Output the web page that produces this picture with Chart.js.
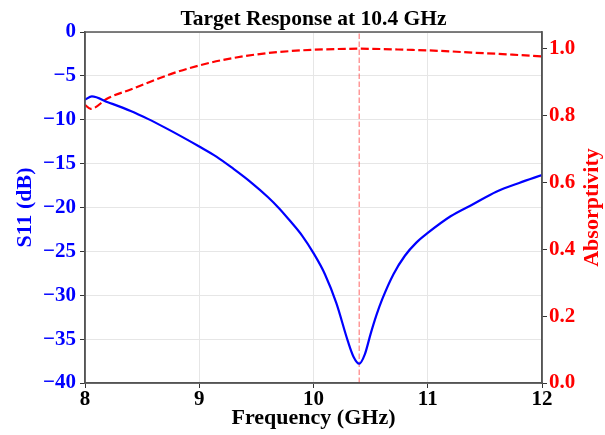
<!DOCTYPE html>
<html>
<head>
<meta charset="utf-8">
<script src="https://cdn.jsdelivr.net/npm/chart.js@4/dist/chart.umd.min.js"></script>
<style>
  body { margin: 0; background: #fff; }
</style>
</head>
<body>
<canvas id="chart" width="605" height="435"></canvas>
<script>
// S11 (dB)
const s11Freq = [8.0, 8.06, 8.2, 8.4, 8.55, 8.7, 8.85, 9.0, 9.15, 9.3, 9.45, 9.6, 9.7, 9.8, 9.9, 10.0,
  10.1, 10.2, 10.3, 10.35, 10.4, 10.45, 10.5, 10.55, 10.6, 10.7, 10.8, 10.9, 11.0, 11.2, 11.4, 11.6, 11.8, 12.0];
const s11Values = [-7.72, -7.34, -8.0, -9.0, -9.9, -10.9, -11.95, -13.05, -14.2, -15.6, -17.1, -18.8, -20.1, -21.6, -23.2, -25.2,
  -27.6, -30.9, -35.2, -37.0, -37.8, -36.7, -34.4, -32.3, -30.5, -27.6, -25.5, -24.0, -22.9, -21.0, -19.6, -18.2, -17.2, -16.3];

// absorptivity
const absFreq = [8.0, 8.05, 8.2, 8.4, 8.6, 8.8, 9.0, 9.2, 9.4, 9.6, 9.8, 10.0, 10.2, 10.4, 10.6, 10.8, 11.0, 11.2, 11.4, 11.6, 11.8, 12.0];
const absValues = [0.832, 0.82, 0.852, 0.878, 0.905, 0.93, 0.95, 0.966, 0.978, 0.987, 0.993, 0.997, 0.999, 1.0, 0.999, 0.997, 0.995, 0.992, 0.988, 0.985, 0.981, 0.977];

const targetFreq = 10.4;
const s11Ticks = [-40, -35, -30, -25, -20, -15, -10, -5, 0];
const absTicks = [0.0, 0.2, 0.4, 0.6, 0.8, 1.0];

const titleText = 'Target Response at 10.4 GHz';
const rightTitle = 'Absorptivity';

const serif = "'Liberation Serif', 'Times New Roman', serif";

function pts(xs, ys) {
    return xs.map((x, i) => ({ x: x, y: ys[i] }));
}

// frame around the plot, title centred on the axes, right axis label read bottom-up
const framePlugin = {
    id: 'frame',
    afterDraw(chart) {
        const a = chart.chartArea;
        const ctx = chart.ctx;
        ctx.save();
        ctx.strokeStyle = '#555';
        ctx.lineWidth = 1.5;
        ctx.strokeRect(a.left, a.top, a.right - a.left, a.bottom - a.top);

        ctx.fillStyle = '#000';
        ctx.font = 'bold 21.5px ' + serif;
        ctx.textAlign = 'center';
        ctx.textBaseline = 'alphabetic';
        ctx.fillText(titleText, (a.left + a.right) / 2, 25);

        ctx.translate(592, (a.top + a.bottom) / 2);
        ctx.rotate(-Math.PI / 2);
        ctx.fillStyle = '#ff0000';
        ctx.font = 'bold 22px ' + serif;
        ctx.textBaseline = 'middle';
        ctx.fillText(rightTitle, 0, 0);
        ctx.restore();
    }
};

new Chart(document.getElementById('chart'), {
    type: 'line',
    data: {
        datasets: [
            {
                label: 'S11',
                data: pts(s11Freq, s11Values),
                yAxisID: 'y',
                borderColor: '#0000ff',
                borderWidth: 2.2,
                pointRadius: 0,
                cubicInterpolationMode: 'monotone'
            },
            {
                label: 'Absorptivity',
                data: pts(absFreq, absValues),
                yAxisID: 'y1',
                borderColor: '#ff0000',
                borderWidth: 2.2,
                borderDash: [8, 3.5],
                pointRadius: 0,
                cubicInterpolationMode: 'monotone'
            },
            {
                label: 'Target',
                data: [{ x: targetFreq, y: s11Ticks[0] }, { x: targetFreq, y: s11Ticks[s11Ticks.length - 1] }],
                yAxisID: 'y',
                borderColor: 'rgba(255,0,0,0.5)',
                borderWidth: 1.2,
                borderDash: [5.5, 2.5],
                pointRadius: 0
            }
        ]
    },
    options: {
        responsive: false,
        animation: false,
        layout: { padding: { top: 32, left: 0, right: 0, bottom: 0 } },
        plugins: {
            legend: { display: false },
            tooltip: { enabled: false },
            title: { display: false }
        },
        scales: {
            x: {
                type: 'linear',
                min: 8,
                max: 12,
                ticks: {
                    stepSize: 1,
                    color: '#000',
                    font: { family: serif, size: 21, weight: 'bold' },
                    padding: -1,
                    maxRotation: 0
                },
                grid: { color: '#e6e6e6', tickColor: '#333', tickLength: 5 },
                border: { color: '#555', width: 1.5 },
                title: {
                    display: true,
                    text: 'Frequency (GHz)',
                    color: '#000',
                    font: { family: serif, size: 22, weight: 'bold' },
                    padding: { top: 0, bottom: 3 }
                },
                afterFit(scale) { scale.height = 52; }
            },
            y: {
                position: 'left',
                min: -40,
                max: 0,
                afterBuildTicks(scale) { scale.ticks = s11Ticks.map(v => ({ value: v })); },
                ticks: {
                    color: '#0000ff',
                    font: { family: serif, size: 21, weight: 'bold' },
                    padding: 4,
                    callback: v => String(v).replace('-', '\u2212')
                },
                grid: { color: '#e6e6e6', tickColor: '#333', tickLength: 5 },
                border: { color: '#555', width: 1.5 },
                title: {
                    display: true,
                    text: 'S11 (dB)',
                    color: '#0000ff',
                    font: { family: serif, size: 22, weight: 'bold' },
                    padding: { top: 12, bottom: 0 }
                },
                afterFit(scale) { scale.width = 85; }
            },
            y1: {
                position: 'right',
                min: 0,
                max: 1.05,
                afterBuildTicks(scale) { scale.ticks = absTicks.map(v => ({ value: v })); },
                ticks: {
                    color: '#ff0000',
                    font: { family: serif, size: 21, weight: 'bold' },
                    padding: 2,
                    callback: v => Number(v).toFixed(1)
                },
                grid: { drawOnChartArea: false, tickColor: '#333', tickLength: 5 },
                border: { color: '#555', width: 1.5 },
                title: { display: false },
                afterFit(scale) { scale.width = 63; }
            }
        }
    },
    plugins: [framePlugin]
});
</script>
</body>
</html>
